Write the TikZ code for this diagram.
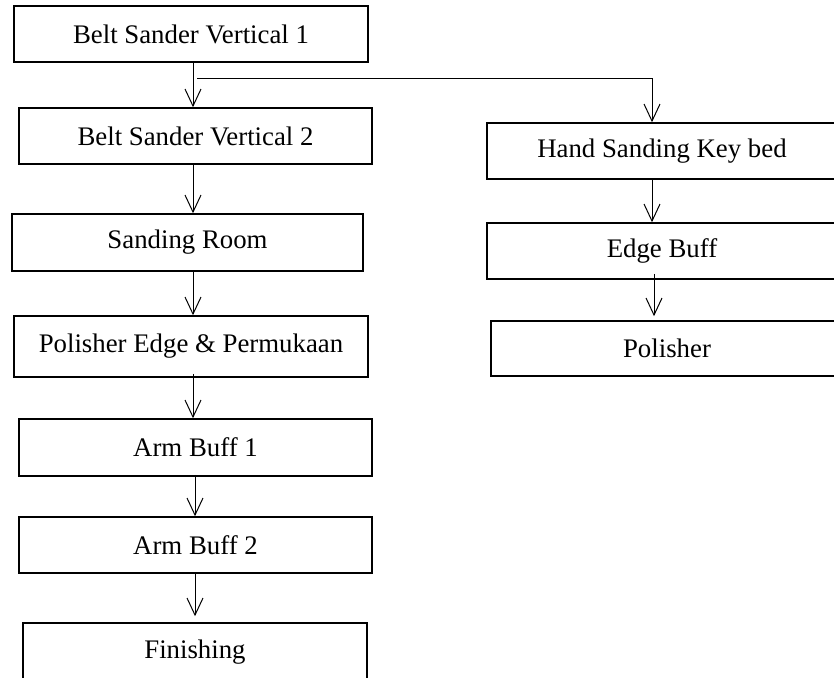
\documentclass[tikz,border=0pt]{standalone}
\usepackage{fontspec}
\setmainfont{Liberation Serif}
\usetikzlibrary{arrows.meta}
\begin{document}
\begin{tikzpicture}[x=1pt,y=-1pt,
  box/.style={draw=black,line width=1.6pt,inner sep=0pt,fill=white,
    font=\fontsize{26.8}{30}\selectfont},
  arr/.style={line width=1pt,-{Straight Barb[length=17pt,width=16pt,line width=1pt]}}]
\useasboundingbox (0,0) rectangle (834,677);
\clip (0,0) rectangle (834,677);
% left column
\node[box,minimum width=354pt,minimum height=56pt] (b1) at (191,34) {Belt Sander Vertical 1};
\node[box,minimum width=353pt,minimum height=56pt] (b2) at (195.5,136) {Belt Sander Vertical 2};
\node[box,minimum width=351pt,minimum height=57pt] (b3) at (187.5,242.5) {Sanding Room};
\node[box,minimum width=354pt,minimum height=61pt] (b4) at (191,346.5) {Polisher Edge \& Permukaan};
\node[box,minimum width=353pt,minimum height=57pt] (b5) at (195.5,447.5) {Arm Buff 1};
\node[box,minimum width=353pt,minimum height=56pt] (b6) at (195.5,545) {Arm Buff 2};
\node[box,minimum width=344pt,minimum height=62pt,text height=20pt,text depth=12pt] (b7) at (195,654) {Finishing};
% right column
\node[box,minimum width=350pt,minimum height=56pt] (hs) at (662,151) {Hand Sanding Key bed};
\node[box,minimum width=350pt,minimum height=56pt] (eb) at (662,251) {Edge Buff};
\node[box,minimum width=352pt,minimum height=55pt] (pol) at (667,348.5) {Polisher};
% connectors
\draw[arr] ([xshift=2pt]b1.south) -- ([xshift=2pt]b1.south |- b2.north);
\draw[arr] ([xshift=-2.5pt]b2.south) -- ([xshift=-2.5pt]b2.south |- b3.north);
\draw[arr] ([xshift=5.5pt]b3.south) -- ([xshift=5.5pt]b3.south |- b4.north);
\draw[arr] ([xshift=2pt,yshift=4pt]b4.south) -- ([xshift=2pt]b4.south |- b5.north);
\draw[arr] ([xshift=-0.5pt,yshift=2pt]b5.south) -- ([xshift=-0.5pt]b5.south |- b6.north);
\draw[arr] ([xshift=-0.5pt]b6.south) -- ([xshift=-0.5pt,yshift=6pt]b6.south |- b7.north);
\coordinate (br) at (197,78);
\draw[arr] (br) -| ([xshift=-10pt]hs.north);
\draw[arr] ([xshift=-10pt]hs.south) -- ([xshift=-10pt]eb.north);
\draw[arr] ([xshift=-8pt,yshift=6pt]eb.south) -- ([xshift=-8pt,yshift=4pt]eb.south |- pol.north);
\end{tikzpicture}
\end{document}
